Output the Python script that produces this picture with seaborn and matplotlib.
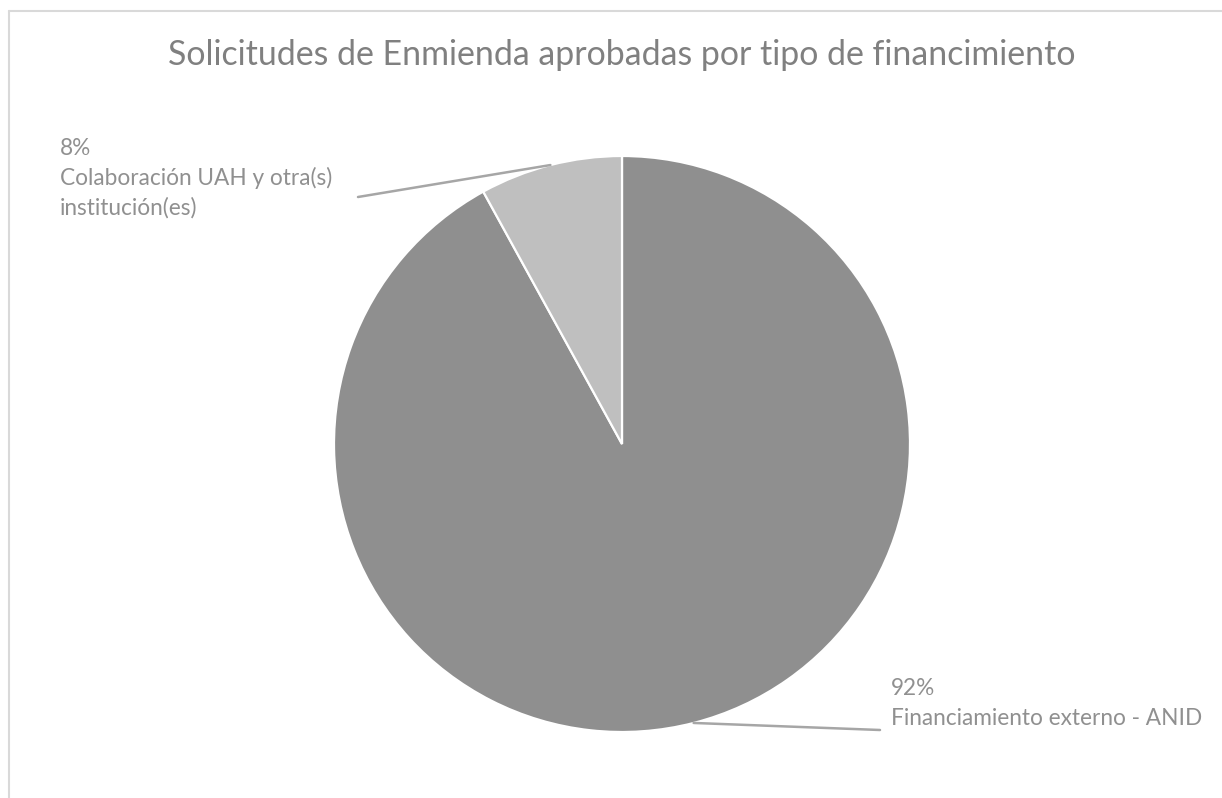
import numpy as np
import matplotlib
matplotlib.use("Agg")
import matplotlib.pyplot as plt
import seaborn as sns
from matplotlib.lines import Line2D

categories = ["Financiamiento externo - ANID", "Colaboración UAH y otra(s)\ninstitución(es)"]
shares = [92, 8]
pct_labels = ["92%", "8%"]
colors = ["#8f8f8f", "#bfbfbf"]
title = "Solicitudes de Enmienda aprobadas por tipo de financimiento"

sns.set_theme(style="white")
plt.rcParams["font.family"] = ["Lato", "DejaVu Sans"]

W, H = 1222, 798
fig = plt.figure(figsize=(W / 100, H / 100), dpi=100)
fig.patch.set_facecolor("white")

# pie placed so center ~ (622, 444) px, radius ~ 288 px
cx, cy, r = 622, 444, 288
ax = fig.add_axes([(cx - r) / W, (H - cy - r) / H, 2 * r / W, 2 * r / H])
wedges, _ = ax.pie(shares, colors=colors, startangle=90, counterclock=False,
                   radius=1, wedgeprops=dict(edgecolor="white", linewidth=1.6))
ax.set_xlim(-1, 1)
ax.set_ylim(-1, 1)
ax.axis("off")

# leader lines and labels (first baseline in px from top, 30 px per line)
line_ends = [(880, 730), (358, 197)]
text_pos = [(891, 695), (60, 155)]
for w, pct, cat, end, tp in zip(wedges, pct_labels, categories, line_ends, text_pos):
    ang = np.deg2rad((w.theta1 + w.theta2) / 2)
    ax.annotate("", xy=(np.cos(ang), np.sin(ang)), xycoords="data",
                xytext=(end[0], H - end[1]), textcoords="figure pixels",
                arrowprops=dict(arrowstyle="-", color="#a6a6a6", lw=1.8,
                                shrinkA=0, shrinkB=0))
    for i, line in enumerate([pct] + cat.split("\n")):
        fig.text(tp[0] / W, 1 - (tp[1] + 30 * i) / H, line, ha="left", va="baseline",
                 fontsize=16.3, color="#909090")

fig.text(168 / W, 1 - 65 / H, title, ha="left", va="baseline",
         fontsize=24.4, color="#808080")

# chart-area border (left and top edges visible)
fig.add_artist(Line2D([9 / W, 9 / W], [0, 1 - 11 / H], transform=fig.transFigure,
                      color="#d9d9d9", lw=1.5))
fig.add_artist(Line2D([9 / W, 1], [1 - 11 / H, 1 - 11 / H], transform=fig.transFigure,
                      color="#d9d9d9", lw=1.5))

fig.savefig("out.png", dpi=100)
